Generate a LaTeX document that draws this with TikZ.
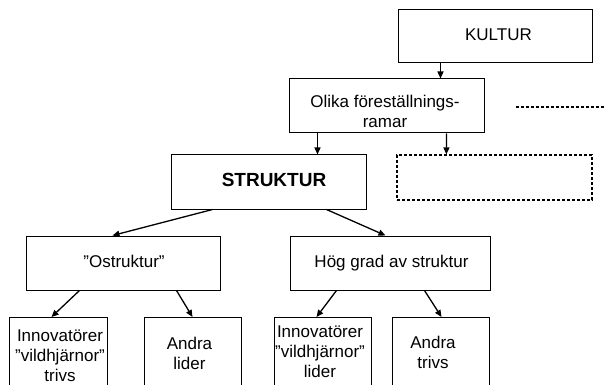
\documentclass[tikz,border=0pt]{standalone}
\usepackage{fontspec}
\setmainfont{Liberation Sans}
\usetikzlibrary{arrows.meta}
\begin{document}
\begin{tikzpicture}[x=1pt,y=-1pt,
  box/.style={draw=black, line width=1pt, rectangle, inner sep=0pt, fill=white},
  dbox/.style={box, dash pattern=on 3pt off 2pt, line width=1.2pt},
  txt/.style={inner sep=0pt, align=center, font=\fontsize{17}{20}\selectfont},
  one/.style={txt, text height=12pt, text depth=3.5pt},
  arr/.style={draw=black, line width=1.3pt, -{Triangle[length=7pt,width=6pt]}},
  dline/.style={draw=black, line width=1.2pt, dash pattern=on 3pt off 2pt}]
\useasboundingbox (0,0) rectangle (605,385);
\clip (0,0) rectangle (605,385);

% upper level
\node[box, minimum width=194pt, minimum height=53pt] (kultur) at (495,36.5) {};
\node[one] (kulturtext) at (498.5,36) {KULTUR};

\node[box, minimum width=195pt, minimum height=54pt] (olika) at (386.5,106) {};
\node[txt] (olikatext) at (385,111) {Olika föreställnings-\\ramar};

\node[dbox, minimum width=195pt, minimum height=45pt] (tom) at (494.5,177.5) {};
\coordinate (streck1) at (516,107);
\coordinate (streck2) at (606,107);

\node[box, minimum width=195pt, minimum height=54pt] (struktur) at (268.5,182) {};
\node[one, font=\fontsize{19}{22}\selectfont\bfseries] (strukturtext) at (274,182) {STRUKTUR};

% middle level
\node[box, minimum width=194pt, minimum height=54pt] (ostr) at (123,263) {};
\node[one] (ostrtext) at (124,263) {”Ostruktur”};

\node[box, minimum width=200pt, minimum height=54pt] (hog) at (390,263) {};
\node[one] (hogtext) at (391.5,263) {Hög grad av struktur};

% lower level (boxes run past the lower edge)
\node[box, anchor=north, minimum width=98pt, minimum height=100pt] (innov1) at (58,317) {};
\node[txt] (innov1text) at (60,356) {Innovatörer\\”vildhjärnor”\\trivs};

\node[box, anchor=north, minimum width=97pt, minimum height=100pt] (andra1) at (192.5,317) {};
\node[txt] (andra1text) at (189.5,353) {Andra\\lider};

\node[box, anchor=north, minimum width=97pt, minimum height=100pt] (innov2) at (322.5,317) {};
\node[txt] (innov2text) at (320,352) {Innovatörer\\”vildhjärnor”\\lider};

\node[box, anchor=north, minimum width=97pt, minimum height=100pt] (andra2) at (440.5,317) {};
\node[txt] (andra2text) at (433,352) {Andra\\trivs};

% connectors
\draw[arr] ([xshift=43pt]kultur.south west) -- ([xshift=152pt]olika.north west);
\draw[arr] ([xshift=29pt]olika.south west) -- ([xshift=147pt]struktur.north west);
\draw[arr] ([xshift=158pt]olika.south west) -- ([xshift=50pt]tom.north west);
\draw[dline] (streck1) -- (streck2);

\draw[arr] ([xshift=42pt]struktur.south west) -- ([xshift=87pt]ostr.north west);
\draw[arr] ([xshift=156pt]struktur.south west) -- ([xshift=96pt]hog.north west);

\draw[arr] ([xshift=54pt]ostr.south west) -- ([xshift=43pt]innov1.north west);
\draw[arr] ([xshift=151pt]ostr.south west) -- ([xshift=49pt]andra1.north west);
\draw[arr] ([xshift=47pt]hog.south west) -- ([xshift=43pt]innov2.north west);
\draw[arr] ([xshift=135pt]hog.south west) -- ([xshift=50pt]andra2.north west);
\end{tikzpicture}
\end{document}
